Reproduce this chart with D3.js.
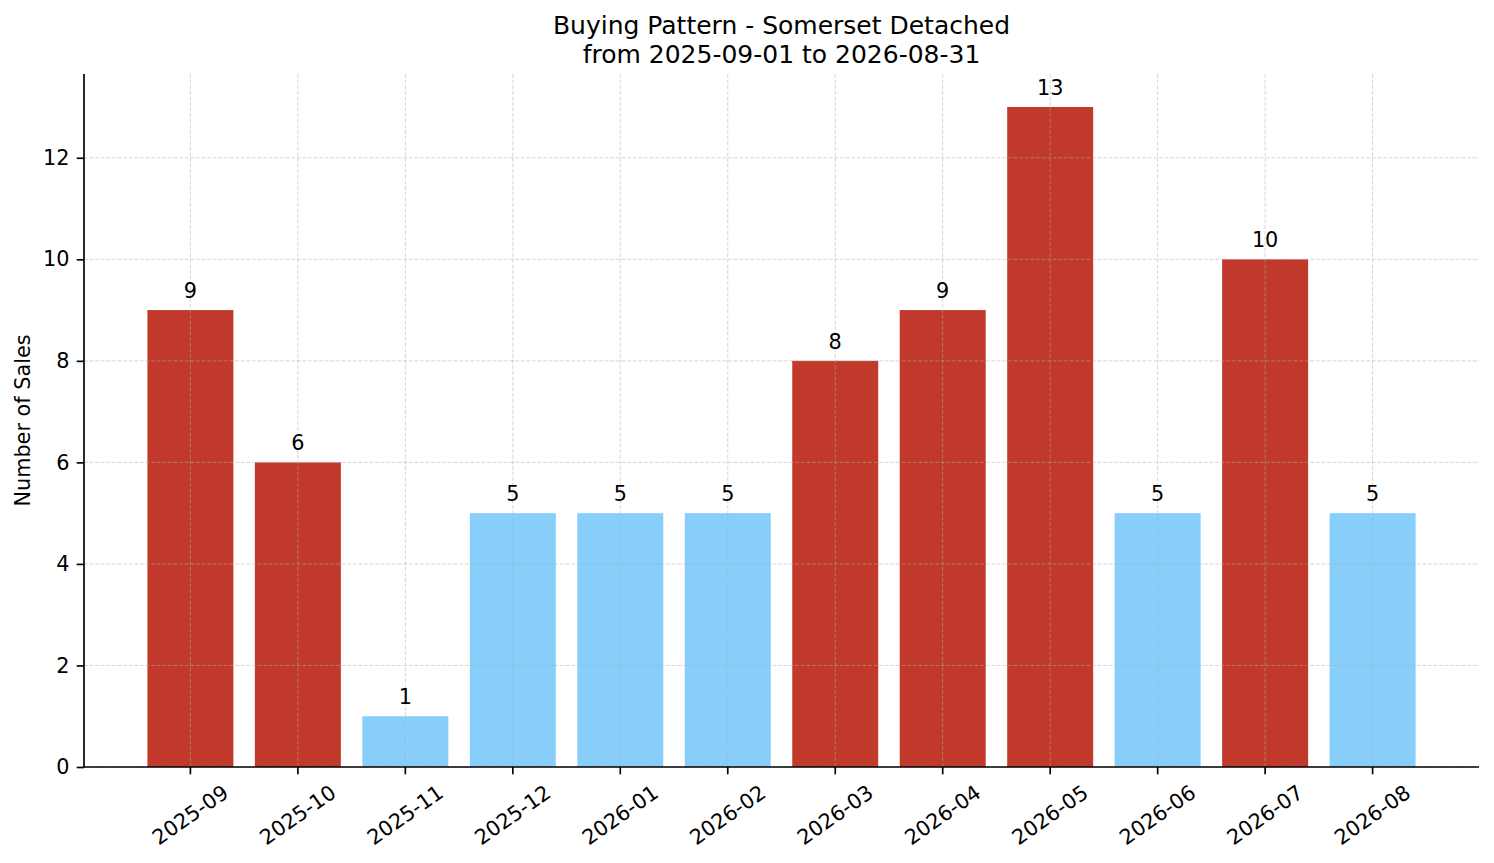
<!DOCTYPE html>
<html lang="en">
<head>
  <meta charset="UTF-8">
  <title>Buying Pattern</title>
  <script src="https://d3js.org/d3.v7.min.js"></script>
  <style>
    body {
      margin: 0;
      background: #fff;
      font-family: "DejaVu Sans", sans-serif;
    }
    svg text {
      fill: #000;
    }
    .grid line {
      stroke: #b0b0b0;
      stroke-opacity: 0.5;
      stroke-width: 1;
      stroke-dasharray: 3.9 1.7;
    }
  </style>
</head>
<body>
  <div id="chart"></div>
  <script>
    const months = ["2025-09", "2025-10", "2025-11", "2025-12", "2026-01", "2026-02",
                    "2026-03", "2026-04", "2026-05", "2026-06", "2026-07", "2026-08"];
    const sales = [9, 6, 1, 5, 5, 5, 8, 9, 13, 5, 10, 5];
    const yTicks = [0, 2, 4, 6, 8, 10, 12];
    const titleLines = ["Buying Pattern - Somerset Detached", "from 2025-09-01 to 2026-08-31"];
    const yLabel = "Number of Sales";

    const width = 1494, height = 863;
    const margin = { top: 74, right: 15, bottom: 96, left: 84 };
    const fs = 20.8;

    const svg = d3.select("#chart").append("svg")
      .attr("width", width)
      .attr("height", height)
      .style("font-family", "'DejaVu Sans', sans-serif");

    const x = d3.scaleBand()
      .domain(months)
      .range([margin.left, width - margin.right])
      .paddingInner(0.2)
      .paddingOuter(0.59);

    const y = d3.scaleLinear()
      .domain([0, d3.max(sales) * 1.05])
      .range([height - margin.bottom, margin.top]);

    const med = d3.median(sales);
    const colour = v => v > med ? "#c0392b" : "#87cefa";

    // bars
    svg.append("g")
      .selectAll("rect")
      .data(sales)
      .join("rect")
      .attr("x", (d, i) => x(months[i]))
      .attr("y", d => y(d))
      .attr("width", x.bandwidth())
      .attr("height", d => y(0) - y(d))
      .attr("fill", d => colour(d));

    // grid (drawn above bars like matplotlib)
    const grid = svg.append("g").attr("class", "grid");
    grid.selectAll(".gy")
      .data(yTicks)
      .join("line")
      .attr("x1", margin.left).attr("x2", width - margin.right)
      .attr("y1", d => y(d)).attr("y2", d => y(d));
    grid.selectAll(".gx")
      .data(months)
      .join("line")
      .attr("x1", d => x(d) + x.bandwidth() / 2).attr("x2", d => x(d) + x.bandwidth() / 2)
      .attr("y1", margin.top).attr("y2", height - margin.bottom);

    // value labels
    svg.append("g")
      .selectAll("text")
      .data(sales)
      .join("text")
      .attr("x", (d, i) => x(months[i]) + x.bandwidth() / 2)
      .attr("y", d => y(d) - 12)
      .attr("text-anchor", "middle")
      .style("font-size", fs + "px")
      .text(d => d);

    // y axis
    const yAxis = svg.append("g")
      .attr("transform", `translate(${margin.left},0)`)
      .call(d3.axisLeft(y).tickValues(yTicks).tickSizeOuter(0).tickSize(7.3).tickPadding(7.3));
    yAxis.select(".domain").attr("stroke", "#000").attr("stroke-width", 1.67)
      .attr("d", `M0,${y(0)}V${margin.top}`);
    yAxis.selectAll(".tick line").attr("stroke", "#000").attr("stroke-width", 1.67);
    yAxis.selectAll(".tick text")
      .style("font-size", fs + "px")
      .style("font-family", "'DejaVu Sans', sans-serif")
      .attr("fill", "#000");

    // x axis
    const xAxis = svg.append("g")
      .attr("transform", `translate(0,${height - margin.bottom})`)
      .call(d3.axisBottom(x).tickSizeOuter(0).tickSize(7.3));
    xAxis.select(".domain").attr("stroke", "#000").attr("stroke-width", 1.67)
      .attr("d", `M${margin.left},0H${width - margin.right}`);
    xAxis.selectAll(".tick line").attr("stroke", "#000").attr("stroke-width", 1.67);
    xAxis.selectAll(".tick text").remove();

    // rotated tick labels: bbox centred on tick, top just under tick
    const labelTop = height - margin.bottom + 7.3 + 7.3;
    months.forEach(m => {
      const cx = x(m) + x.bandwidth() / 2;
      const t = svg.append("text")
        .attr("text-anchor", "middle")
        .attr("dominant-baseline", "central")
        .style("font-size", fs + "px")
        .text(m);
      const L = t.node().getComputedTextLength();
      const h = fs * 1.0;
      const a = 35 * Math.PI / 180;
      const bh = L * Math.sin(a) + h * Math.cos(a);
      t.attr("transform", `translate(${cx},${labelTop + bh / 2}) rotate(-35)`);
    });

    // y label
    svg.append("text")
      .attr("transform", `translate(23,${(margin.top + height - margin.bottom) / 2}) rotate(-90)`)
      .attr("text-anchor", "middle")
      .attr("dominant-baseline", "central")
      .style("font-size", fs + "px")
      .text(yLabel);

    // title
    svg.append("g")
      .selectAll("text")
      .data(titleLines)
      .join("text")
      .attr("x", (margin.left + width - margin.right) / 2)
      .attr("y", (d, i) => 34 + i * 29)
      .attr("text-anchor", "middle")
      .style("font-size", "25px")
      .text(d => d);
  </script>
</body>
</html>
